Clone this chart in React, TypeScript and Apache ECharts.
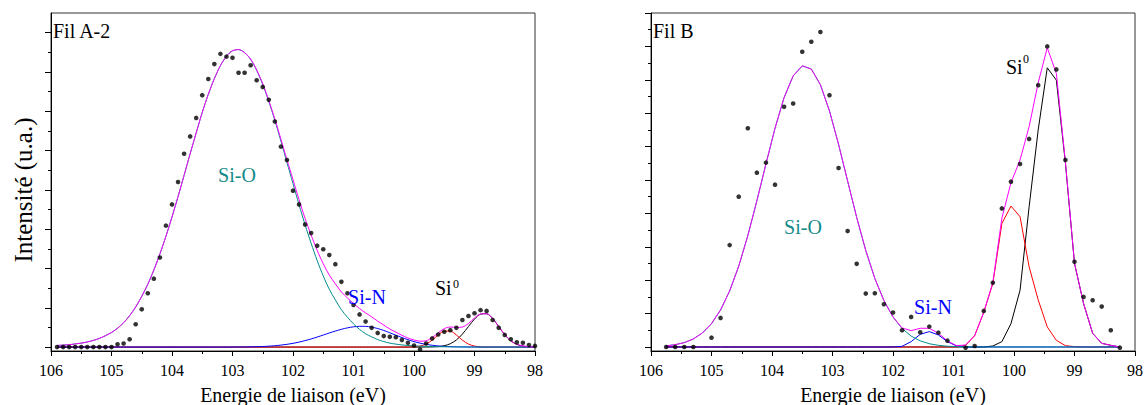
import React, { useEffect, useRef } from "react";
import * as echarts from "echarts";

// ---------- Panel A (Fil A-2) ----------
const energyA = [
  105.9, 105.8, 105.7, 105.6, 105.5, 105.4, 105.3, 105.2, 105.1, 105.0,
  104.9, 104.8, 104.7, 104.6, 104.5, 104.4, 104.3, 104.2, 104.1, 104.0,
  103.9, 103.8, 103.7, 103.6, 103.5, 103.4, 103.3, 103.2, 103.1, 103.0,
  102.9, 102.8, 102.7, 102.6, 102.5, 102.4, 102.3, 102.2, 102.1, 102.0,
  101.9, 101.8, 101.7, 101.6, 101.5, 101.4, 101.3, 101.2, 101.1, 101.0,
  100.9, 100.8, 100.7, 100.6, 100.5, 100.4, 100.3, 100.2, 100.1, 100.0,
  99.9, 99.8, 99.7, 99.6, 99.5, 99.4, 99.3, 99.2, 99.1, 99.0,
  98.9, 98.8, 98.7, 98.6, 98.5, 98.4, 98.3, 98.2, 98.1, 98.0,
];
const measuredA = [
  0, 0, 0, 0, 0, 0, 0, 0, 0, 0,
  0.07, 0.09, 0.2, 0.58, 0.96, 1.37, 1.74, 2.28, 3.09, 3.63,
  4.2, 4.92, 5.36, 5.83, 6.41, 6.82, 7.2, 7.46, 7.39, 7.36,
  6.98, 6.98, 7.17, 6.79, 6.62, 6.29, 5.74, 5.1, 4.76, 3.98,
  3.63, 3.12, 2.9, 2.58, 2.49, 2.34, 2.11, 1.66, 1.37, 1.07,
  0.83, 0.65, 0.49, 0.36, 0.28, 0.26, 0.25, 0.18, 0.11, 0.04,
  -0.06, 0.09, 0.22, 0.32, 0.39, 0.43, 0.49, 0.69, 0.79, 0.86,
  0.94, 0.92, 0.69, 0.49, 0.31, 0.2, 0.12, 0.11, 0.05, 0.03,
];
const siOA = [
  0.04, 0.05, 0.06, 0.08, 0.1, 0.13, 0.17, 0.22, 0.29, 0.37,
  0.48, 0.62, 0.8, 1.02, 1.29, 1.6, 1.96, 2.37, 2.82, 3.31,
  3.83, 4.37, 4.92, 5.45, 5.97, 6.43, 6.83, 7.16, 7.4, 7.54,
  7.57, 7.49, 7.32, 7.04, 6.68, 6.25, 5.77, 5.24, 4.7, 4.16,
  3.62, 3.11, 2.64, 2.2, 1.81, 1.47, 1.2, 0.95, 0.76, 0.59,
  0.45, 0.34, 0.26, 0.19, 0.14, 0.1, 0.075, 0.055, 0.04, 0.03,
  0.022, 0.016, 0.012, 0.009, 0.007, 0.005, 0.004, 0.003, 0.002, 0.001,
  0, 0, 0, 0, 0, 0, 0, 0, 0, 0,
];
const siNA = [
  0, 0, 0, 0, 0, 0, 0, 0, 0, 0,
  0, 0, 0, 0, 0, 0, 0, 0, 0, 0,
  0, 0, 0, 0, 0, 0, 0, 0, 0, 0.001,
  0.002, 0.004, 0.006, 0.01, 0.015, 0.023, 0.034, 0.05, 0.07, 0.095,
  0.126, 0.164, 0.207, 0.255, 0.306, 0.358, 0.407, 0.452, 0.489, 0.515,
  0.528, 0.527, 0.508, 0.472, 0.423, 0.364, 0.303, 0.243, 0.187, 0.139,
  0.1, 0.069, 0.046, 0.029, 0.018, 0.011, 0.006, 0.003, 0.002, 0.001,
  0, 0, 0, 0, 0, 0, 0, 0, 0, 0,
];
const redA = [
  0, 0, 0, 0, 0, 0, 0, 0, 0, 0,
  0, 0, 0, 0, 0, 0, 0, 0, 0, 0,
  0, 0, 0, 0, 0, 0, 0, 0, 0, 0,
  0, 0, 0, 0, 0, 0, 0, 0, 0, 0,
  0, 0, 0, 0, 0, 0, 0, 0, 0, 0,
  0, 0, 0, 0, 0, 0, 0, 0, 0.001, 0.006,
  0.025, 0.077, 0.177, 0.308, 0.406, 0.406, 0.308, 0.177, 0.077, 0.025,
  0.006, 0.001, 0, 0, 0, 0, 0, 0, 0, 0,
];
const si0A = [
  0, 0, 0, 0, 0, 0, 0, 0, 0, 0,
  0, 0, 0, 0, 0, 0, 0, 0, 0, 0,
  0, 0, 0, 0, 0, 0, 0, 0, 0, 0,
  0, 0, 0, 0, 0, 0, 0, 0, 0, 0,
  0, 0, 0, 0, 0, 0, 0, 0, 0, 0,
  0, 0, 0, 0, 0, 0, 0, 0, 0, 0,
  0, 0.001, 0.004, 0.012, 0.034, 0.085, 0.18, 0.33, 0.522, 0.712,
  0.837, 0.848, 0.726, 0.522, 0.315, 0.16, 0.068, 0.025, 0.009, 0.003,
];
const envelopeA = [
  0.04, 0.05, 0.06, 0.08, 0.1, 0.13, 0.17, 0.22, 0.29, 0.37,
  0.48, 0.62, 0.8, 1.02, 1.29, 1.6, 1.96, 2.37, 2.82, 3.31,
  3.83, 4.37, 4.92, 5.45, 5.97, 6.43, 6.83, 7.16, 7.4, 7.54,
  7.57, 7.49, 7.33, 7.05, 6.7, 6.27, 5.8, 5.29, 4.77, 4.26,
  3.75, 3.27, 2.85, 2.46, 2.12, 1.83, 1.61, 1.4, 1.25, 1.11,
  0.98, 0.87, 0.77, 0.66, 0.56, 0.46, 0.38, 0.3, 0.23, 0.18,
  0.15, 0.16, 0.24, 0.36, 0.47, 0.51, 0.5, 0.51, 0.6, 0.74,
  0.84, 0.85, 0.73, 0.52, 0.32, 0.16, 0.07, 0.03, 0.01, 0,
];

// ---------- Panel B (Fil B) ----------
const energyB = [
  105.75, 105.6, 105.45, 105.3, 105.15, 105.0, 104.85, 104.7, 104.55, 104.4,
  104.25, 104.1, 103.95, 103.8, 103.65, 103.5, 103.35, 103.2, 103.05, 102.9,
  102.75, 102.6, 102.45, 102.3, 102.15, 102.0, 101.85, 101.7, 101.55, 101.4,
  101.25, 101.1, 100.95, 100.8, 100.65, 100.5, 100.35, 100.2, 100.05, 99.9,
  99.75, 99.6, 99.45, 99.3, 99.15, 99.0, 98.85, 98.7, 98.55, 98.4,
  98.25,
];
const measuredB = [
  0, 0, 0, 0, null, 0.28, 0.87, 3.05, 4.5, 6.55,
  5.22, 5.52, 4.86, 7.19, 7.29, 8.84, 9.14, 9.43, 7.54, 5.36,
  3.47, 2.49, 1.6, 1.61, 1.28, 1.03, 0.5, 0.9, 0.44, 0.61,
  0.43, 0.19, null, -0.02, 0.03, 1.08, 1.92, 4.15, 4.95, 5.48,
  6.23, 7.84, 9.0, 8.31, 5.6, 2.55, 1.5, 1.4, 1.21, 0.5,
  -0.02,
];
const siOB = [
  0.034, 0.069, 0.132, 0.241, 0.42, 0.698, 1.108, 1.677, 2.42, 3.333,
  4.377, 5.482, 6.551, 7.466, 8.117, 8.416, 8.324, 7.853, 7.066, 6.065,
  4.966, 3.877, 2.888, 2.052, 1.389, 0.899, 0.554, 0.325, 0.183, 0.098,
  0.05, 0.024, 0.011, 0.005, 0.002, 0.001, 0, 0, 0, 0,
  0, 0, 0, 0, 0, 0, 0, 0, 0, 0,
  0,
];
const siNB = [
  0, 0, 0, 0, 0, 0, 0, 0, 0, 0,
  0, 0, 0, 0, 0, 0, 0, 0, 0, 0,
  0, 0, 0, 0, 0, 0, 0.02, 0.16, 0.38, 0.46,
  0.36, 0.16, 0.03, 0, 0, 0, 0, 0, 0, 0,
  0, 0, 0, 0, 0, 0, 0, 0, 0, 0,
  0,
];
const redB = [
  0, 0, 0, 0, 0, 0, 0, 0, 0, 0,
  0, 0, 0, 0, 0, 0, 0, 0, 0, 0,
  0, 0, 0, 0, 0, 0, 0, 0, 0, 0,
  0, 0, 0, 0.05, 0.34, 1.04, 1.9, 3.7, 4.22, 3.9,
  2.4, 1.41, 0.6, 0.2, 0.04, 0.01, 0, 0, 0, 0,
  0,
];
const si0B = [
  0, 0, 0, 0, 0, 0, 0, 0, 0, 0,
  0, 0, 0, 0, 0, 0, 0, 0, 0, 0,
  0, 0, 0, 0, 0, 0, 0, 0, 0, 0,
  0, 0, 0, 0, 0, 0, 0.03, 0.16, 0.7, 1.7,
  4.2, 6.5, 8.36, 7.99, 5.5, 2.5, 1.3, 0.41, 0.11, 0.05,
  0,
];
const envelopeB = [
  0.03, 0.07, 0.13, 0.24, 0.42, 0.7, 1.11, 1.68, 2.42, 3.33,
  4.38, 5.48, 6.55, 7.47, 8.12, 8.42, 8.32, 7.85, 7.07, 6.07,
  4.97, 3.88, 2.89, 2.05, 1.39, 0.9, 0.57, 0.49, 0.56, 0.56,
  0.41, 0.18, 0.04, 0.06, 0.34, 1.04, 1.93, 3.86, 4.92, 5.6,
  6.6, 7.91, 8.96, 8.19, 5.54, 2.51, 1.3, 0.41, 0.11, 0.05,
  0,
];

// ---------- tick positions (intensity units) ----------
const yMajorA = [0, 1, 2, 3, 4, 5, 6, 7, 8];
const yMinorA = [0.5, 1.5, 2.5, 3.5, 4.5, 5.5, 6.5, 7.5];
const yMajorB = [0, 1, 2, 3, 4, 5, 6, 7, 8, 9, 10];
const yMinorB = [0.5, 1.5, 2.5, 3.5, 4.5, 5.5, 6.5, 7.5, 8.5, 9.5];

const SERIF = "Liberation Serif";
const C_ENV = "#ff00ff";
const C_SIO = "#008b8b";
const C_SIN = "#0000ff";
const C_RED = "#ff0000";
const C_SI0 = "#000000";

const pairs = (xs: number[], ys: (number | null)[]) =>
  xs.map((x, i) => [x, ys[i]]).filter((p) => p[1] !== null);

function xAxisFor(grid: number) {
  return {
    type: "value",
    gridIndex: grid,
    min: 98,
    max: 106,
    interval: 1,
    inverse: true,
    axisLine: { show: true, onZero: false, lineStyle: { color: "#000", width: 1 } },
    axisTick: { show: true, inside: false, length: 5, lineStyle: { color: "#000", width: 1 } },
    minorTick: { show: true, splitNumber: 2, length: 3, lineStyle: { color: "#000", width: 1 } },
    axisLabel: { color: "#000", fontSize: 16, fontFamily: SERIF, margin: 11 },
    splitLine: { show: false },
    minorSplitLine: { show: false },
    name: "Energie de liaison (eV)",
    nameLocation: "middle",
    nameGap: 34,
    nameTextStyle: { color: "#000", fontSize: 20, fontFamily: SERIF },
  };
}

function yAxisFor(grid: number, min: number, max: number, ticks: number[], len: number, showLine: boolean) {
  return {
    type: "value",
    gridIndex: grid,
    min,
    max,
    position: "left",
    offset: 0,
    axisLine: { show: showLine, onZero: false, lineStyle: { color: "#000", width: 1 } },
    axisTick: { show: true, inside: false, length: len, customValues: ticks, lineStyle: { color: "#000", width: 1 } },
    axisLabel: { show: false },
    splitLine: { show: false },
  };
}

function lineSeries(axis: number, xs: number[], ys: number[], color: string, smooth: number | boolean) {
  return {
    type: "line",
    xAxisIndex: axis,
    yAxisIndex: axis * 2,
    data: pairs(xs, ys),
    showSymbol: false,
    symbol: "none",
    smooth,
    silent: true,
    lineStyle: { color, width: 1 },
    itemStyle: { color },
  };
}

function dotSeries(axis: number, xs: number[], ys: (number | null)[]) {
  return {
    type: "scatter",
    xAxisIndex: axis,
    yAxisIndex: axis * 2,
    data: pairs(xs, ys),
    symbol: "circle",
    symbolSize: 4.6,
    silent: true,
    itemStyle: { color: "#000" },
    z: 5,
  };
}

function txt(text: string, x: number, y: number, size: number, color: string, align = "left", rotation = 0) {
  return {
    type: "text",
    x,
    y,
    rotation,
    silent: true,
    z: 10,
    style: {
      text,
      fill: color,
      fontSize: size,
      fontFamily: SERIF,
      textAlign: align,
      align,
      textVerticalAlign: "middle",
      verticalAlign: "middle",
    },
  };
}

export default function App() {
  const ref = useRef<HTMLDivElement>(null);

  useEffect(() => {
    if (!ref.current) return;
    const chart = echarts.init(ref.current, undefined, { renderer: "svg" });
    const gridBase = {
      top: 13,
      width: 484,
      height: 338,
      show: true,
      borderColor: "#333",
      borderWidth: 1,
      backgroundColor: "transparent",
      containLabel: false,
      outerBoundsMode: "none",
    };
    const option: any = {
      animation: false,
      backgroundColor: "#ffffff",
      textStyle: { fontFamily: SERIF },
      grid: [
        { ...gridBase, left: 51 },
        { ...gridBase, left: 651 },
      ],
      xAxis: [xAxisFor(0), xAxisFor(1)],
      yAxis: [
        yAxisFor(0, -0.1, 8.5, yMajorA, 6, true),
        yAxisFor(0, -0.1, 8.5, yMinorA, 3, false),
        yAxisFor(1, -0.12, 10, yMajorB, 6, true),
        yAxisFor(1, -0.12, 10, yMinorB, 3, false),
      ],
      series: [
        lineSeries(0, energyA, si0A, C_SI0, 0.3),
        lineSeries(0, energyA, redA, C_RED, 0.3),
        lineSeries(0, energyA, siNA, C_SIN, 0.3),
        lineSeries(0, energyA, siOA, C_SIO, 0.3),
        lineSeries(0, energyA, envelopeA, C_ENV, 0.3),
        dotSeries(0, energyA, measuredA),
        lineSeries(1, energyB, si0B, C_SI0, false),
        lineSeries(1, energyB, redB, C_RED, false),
        lineSeries(1, energyB, siNB, C_SIN, false),
        lineSeries(1, energyB, siOB, C_SIO, false),
        lineSeries(1, energyB, envelopeB, C_ENV, false),
        dotSeries(1, energyB, measuredB),
      ],
      graphic: [
        txt("Intensité (u.a.)", 23, 190, 25, "#000", "center", Math.PI / 2),
        txt("Fil A-2", 53, 30.5, 20, "#000"),
        txt("Si-O", 237, 175, 20, "#138a8a", "center"),
        txt("Si-N", 367, 296.5, 20, C_SIN, "center"),
        txt("Si", 435, 287.5, 20, "#000"),
        txt("0", 453, 283.5, 12, "#000"),
        txt("Fil B", 653, 30.5, 20, "#000"),
        txt("Si-O", 803, 227, 20, "#138a8a", "center"),
        txt("Si-N", 933, 306.5, 20, C_SIN, "center"),
        txt("Si", 1006, 66.5, 20, "#000"),
        txt("0", 1023, 58.5, 12, "#000"),
      ],
    };
    chart.setOption(option);
    return () => chart.dispose();
  }, []);

  return (
    <div
      ref={ref}
      style={{ position: "absolute", left: 0, top: 0, width: 1144, height: 405, background: "#fff" }}
    />
  );
}
